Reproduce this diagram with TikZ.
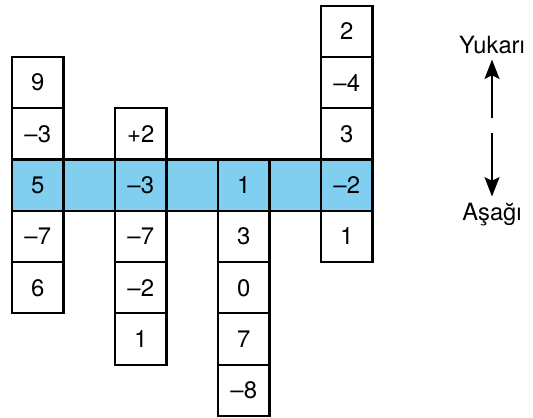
\documentclass[tikz,border=0pt]{standalone}
\usepackage{fontspec}
\setmainfont{TeX Gyre Heros}
\usepackage{tikz}
\usetikzlibrary{arrows.meta}
\definecolor{ink}{HTML}{000000}
\definecolor{band}{HTML}{80CEF0}
\tikzset{
  cell/.style={draw=ink, line width=1.2pt, minimum width=1.03cm, minimum height=1.026cm, inner sep=0pt, font=\fontsize{13.6}{15}\selectfont},
  hot/.style={cell, fill=band},
  dir/.style={draw=ink, line width=1.1pt, -{Stealth[length=11pt,width=8.5pt,inset=2pt]}},
  lab/.style={text=ink, font=\fontsize{13.5}{15}\selectfont},
}

\begin{document}
\begin{tikzpicture}[x=0.02cm, y=-0.02cm]
  \useasboundingbox (0,0) rectangle (533,417);
  \def\xl{12}
  \def\yt{159.5}
  \def\w{51.5}
  \def\h{51.3}

  % blue row
  \foreach \v [count=\i from 0] in {5,,–3,,1,,–2}
    \node[hot] (b\i) at ({\xl+\w*(\i+0.5)},{\yt+\h*0.5}) {\v};

  % columns above and below the row
  \foreach \c/\r/\v in {0/-2/9, 0/-1/–3, 0/1/–7, 0/2/6,
                        2/-1/+2, 2/1/–7, 2/2/–2, 2/3/1,
                        4/1/3, 4/2/0, 4/3/7, 4/4/–8,
                        6/-3/2, 6/-2/–4, 6/-1/3, 6/1/1}
    \node[cell] (c\c r\r) at ({\xl+\w*(\c+0.5)},{\yt+\h*(\r+0.5)}) {\v};

  \node[lab, anchor=base] (up) at (492,53) {Yukarı};
  \node[lab, anchor=base] (down) at (492,220) {Aşağı};
  \coordinate (upfoot) at (492,118);
  \coordinate (downfoot) at (492,133);
  \draw[dir] (upfoot) -- (up.south);
  \draw[dir] (downfoot) -- (down.north);
\end{tikzpicture}
\end{document}
